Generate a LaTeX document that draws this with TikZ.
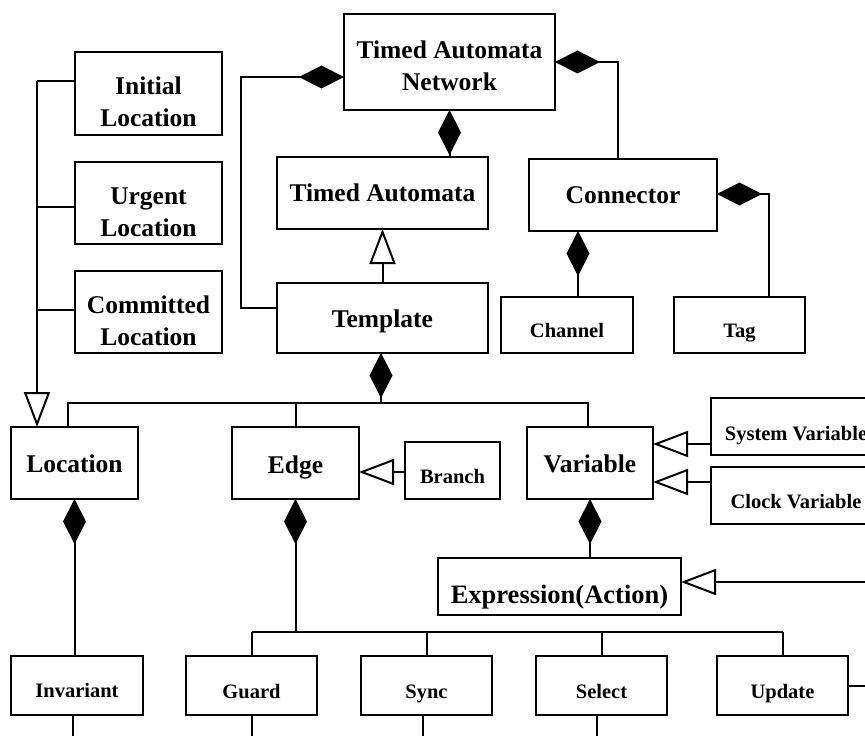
\documentclass[tikz,border=0pt]{standalone}
\usepackage{fontspec}
\setmainfont{Liberation Serif}
\usetikzlibrary{arrows.meta}
\newcommand\dn[2]{\raisebox{-#1}[\height][\depth]{#2}}
\newcommand\twol[2]{\begin{tabular}{@{}c@{}}#1\\#2\end{tabular}}
\tikzset{
  box/.style={draw, line width=2pt, inner sep=0pt, outer sep=0pt},
  big/.style={box, font=\fontsize{25.5}{32}\selectfont\bfseries, text height=16.9pt, text depth=0pt},
  two/.style={box, font=\fontsize{25.5}{32}\selectfont\bfseries},
  small/.style={box, font=\fontsize{20.5}{25}\selectfont\bfseries, text height=13.6pt, text depth=0pt},
  wire/.style={line width=2pt},
  comp/.style={wire, {Diamond[length=45pt,width=23pt]}-},
  gen/.style={wire, -{Triangle[open,length=35pt,width=26pt,fill=white]}},
}
\begin{document}
\begin{tikzpicture}[x=1pt,y=-1pt]
\useasboundingbox (0,0) rectangle (865,736);
\clip (0,0) rectangle (865,736);
% nodes
\node[two, minimum width=211pt, minimum height=96pt] (tan) at (449.5,62) {\dn{6pt}{\twol{Timed Automata}{Network}}};
\node[two, minimum width=147pt, minimum height=83pt] (init) at (148.5,93.5) {\dn{11pt}{\twol{Initial}{Location}}};
\node[two, minimum width=147pt, minimum height=82pt] (urg) at (148.5,203) {\dn{11pt}{\twol{Urgent}{Location}}};
\node[two, minimum width=147pt, minimum height=82pt] (comm) at (148.5,312) {\dn{11pt}{\twol{Committed}{Location}}};
\node[big, minimum width=211pt, minimum height=72pt] (ta) at (382.5,193) {Timed Automata};
\node[big, minimum width=211pt, minimum height=70pt] (tmpl) at (382.5,318) {\dn{1pt}{Template}};
\node[big, minimum width=188pt, minimum height=72pt] (conn) at (623,195) {Connector};
\node[small, minimum width=132pt, minimum height=56pt] (chan) at (567,325) {\dn{6pt}{Channel}};
\node[small, minimum width=131pt, minimum height=56pt] (tag) at (739.5,325) {\dn{6pt}{Tag}};
\node[big, minimum width=127pt, minimum height=72pt] (loc) at (74.5,463) {\dn{1pt}{Location}};
\node[big, minimum width=127pt, minimum height=72pt] (edge) at (295.5,463) {\dn{2pt}{Edge}};
\node[small, minimum width=95pt, minimum height=57pt] (branch) at (452.5,470.5) {\dn{6pt}{Branch}};
\node[big, minimum width=126pt, minimum height=72pt] (var) at (590,463) {\dn{1pt}{Variable}};
\node[small, minimum width=170pt, minimum height=57pt] (sysv) at (796,426.5) {\dn{7pt}{System Variable}};
\node[small, minimum width=170pt, minimum height=57pt] (clkv) at (796,495.5) {\dn{6pt}{Clock Variable}};
\node[big, font=\fontsize{26.5}{32}\selectfont\bfseries, minimum width=243pt, minimum height=57pt] (expr) at (559.5,586.5) {\dn{9pt}{Expression(Action)}};
\node[small, minimum width=132pt, minimum height=59pt] (inv) at (77,685.5) {\dn{5.5pt}{Invariant}};
\node[small, minimum width=131pt, minimum height=59pt] (guard) at (251.5,685.5) {\dn{6pt}{Guard}};
\node[small, minimum width=131pt, minimum height=59pt] (sync) at (426.5,685.5) {\dn{6pt}{Sync}};
\node[small, minimum width=131pt, minimum height=59pt] (sel) at (601.5,685.5) {\dn{6pt}{Select}};
\node[small, minimum width=131pt, minimum height=59pt] (upd) at (782.5,685.5) {\dn{6pt}{Update}};
% coordinates
\coordinate (gtop) at (37,81);
\coordinate (gu) at (37,207);
\coordinate (gc) at (37,310);
\coordinate (tl) at (241,77);
\coordinate (tlb) at (241,308);
\coordinate (tr) at (618,62);
\coordinate (cb) at (578,250);
\coordinate (cr) at (769,194);
\coordinate (tb) at (381,403);
\coordinate (bl) at (68,403);
\coordinate (br) at (588,403);
\coordinate (bg) at (400,472);
\coordinate (sg) at (680,444);
\coordinate (cg) at (680,482);
\coordinate (eg) at (880,582);
\coordinate (eb) at (295,632);
\coordinate (ur) at (880,685.5);
\coordinate (bot) at (0,760);
% location generalisation
\draw[wire] (gtop -| init.west) -- (gtop);
\draw[wire] (gu -| urg.west) -- (gu);
\draw[wire] (gc -| comm.west) -- (gc);
\draw[gen] (gtop) -- (gtop |- loc.north);
% network
\draw[comp] (tl -| tan.west) -- (tl) -- (tlb) -- (tlb -| tmpl.west);
\draw[comp] (tan.east) -- (tr) -- (tr |- conn.north);
\draw[comp] (tan.south) -- (tan.south |- ta.north);
\draw[gen] (tmpl.north) -- (ta.south);
\draw[comp] (conn.south -| cb) -- (chan.north -| cb);
\draw[comp] (cr -| conn.east) -- (cr) -- (cr |- tag.north);
% template bus
\draw[comp] (tmpl.south -| tb) -- (tb);
\draw[wire] (loc.north -| bl) -- (bl) -- (br) -- (br |- var.north);
\draw[wire] (edge.north) -- (edge.north |- bl);
% generalisations
\draw[gen] (bg -| branch.west) -- (bg -| edge.east);
\draw[gen] (sg -| sysv.west) -- (sg -| var.east);
\draw[gen] (cg -| clkv.west) -- (cg -| var.east);
\draw[gen] (eg) -- (eg -| expr.east);
% compositions below
\draw[comp] (var.south) -- (var.south |- expr.north);
\draw[comp] (loc.south) -- (loc.south |- inv.north);
\draw[comp] (edge.south) -- (edge.south |- eb);
\draw[wire] (guard.north |- eb) -- (upd.north |- eb);
\draw[wire] (guard.north) -- (guard.north |- eb);
\draw[wire] (sync.north) -- (sync.north |- eb);
\draw[wire] (sel.north) -- (sel.north |- eb);
\draw[wire] (upd.north) -- (upd.north |- eb);
\draw[wire] (upd.east) -- (ur);
% stubs at the bottom
\draw[wire] ([xshift=-4pt]inv.south) -- ([xshift=-4pt]inv.south |- bot);
\draw[wire] (guard.south) -- (guard.south |- bot);
\draw[wire] ([xshift=-4pt]sync.south) -- ([xshift=-4pt]sync.south |- bot);
\draw[wire] ([xshift=-4.5pt]sel.south) -- ([xshift=-4.5pt]sel.south |- bot);
\end{tikzpicture}
\end{document}
